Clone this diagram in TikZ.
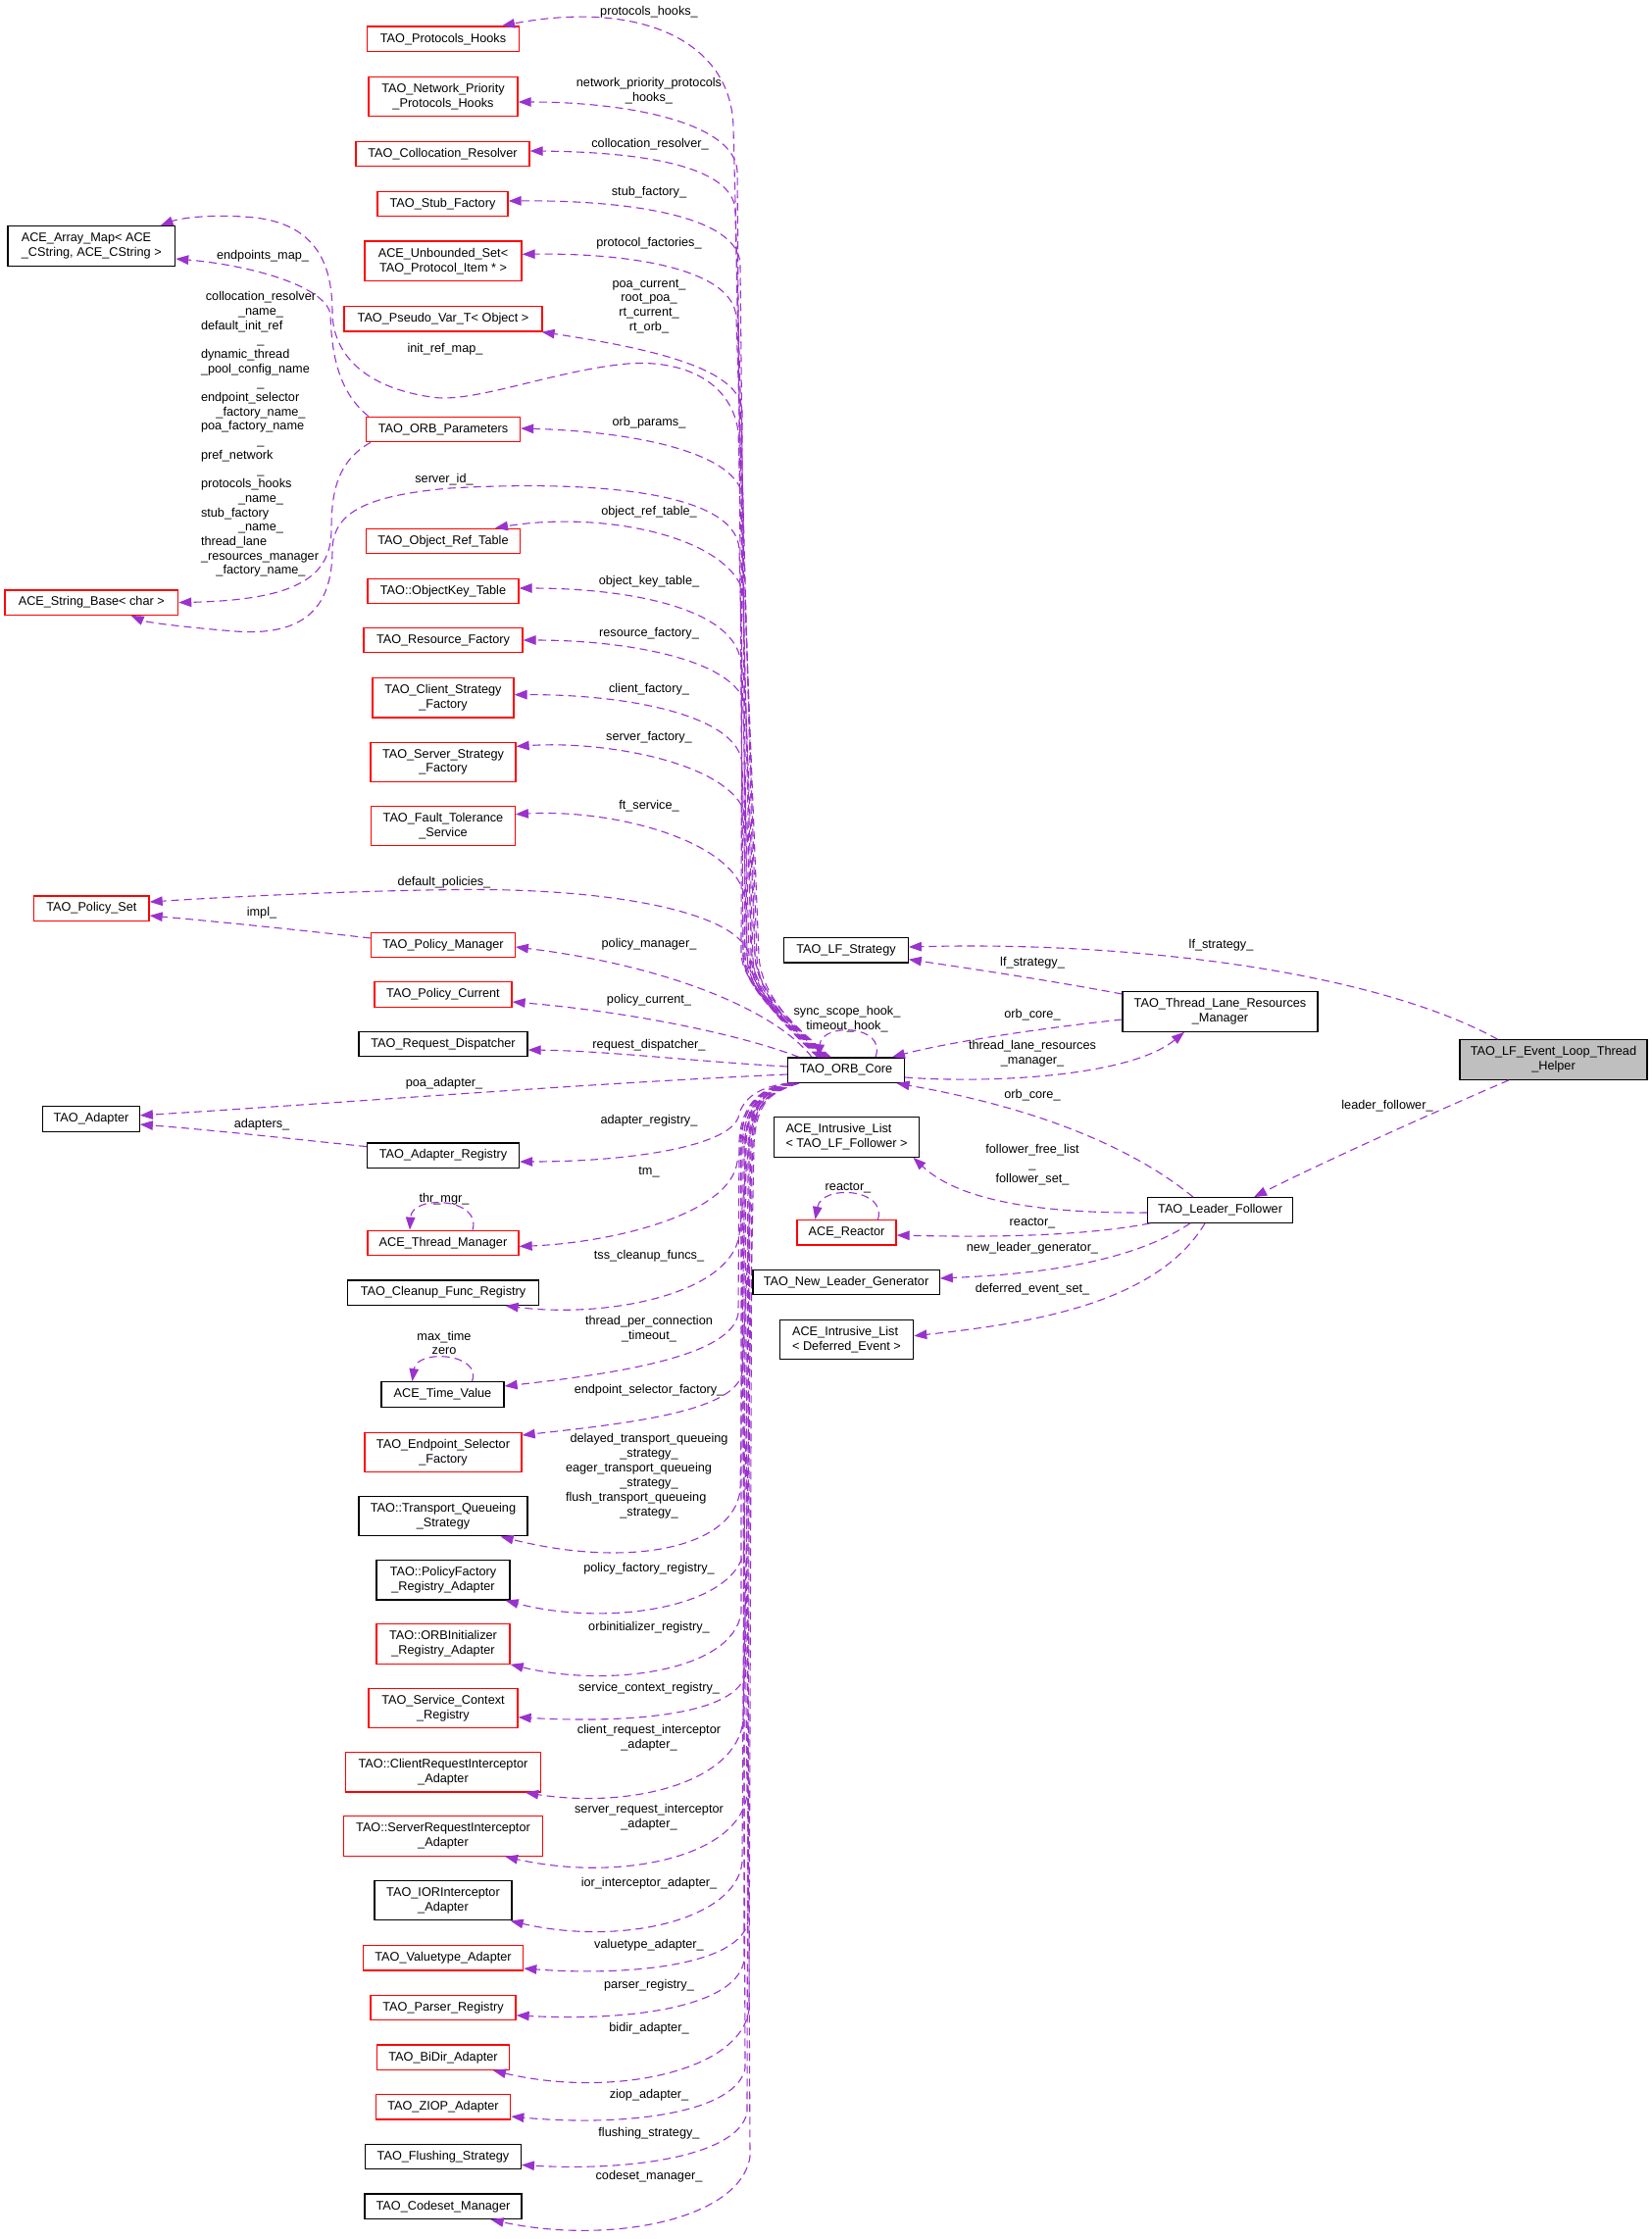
\documentclass[tikz,border=0pt]{standalone}
\usepackage{fontspec}
\setmainfont{Liberation Sans}
\usetikzlibrary{arrows.meta}
\definecolor{edgec}{HTML}{9A32CD}
\definecolor{hlgray}{HTML}{BFBFBF}
\tikzset{
  box/.style={draw=black, line width=1.3pt, inner sep=0pt, minimum height=25.5pt, align=center, font=\fontsize{12.7}{14.8}\selectfont, fill=white},
  rbox/.style={box, draw=red},
  two/.style={minimum height=40.4pt},
  edge/.style={draw=edgec, line width=1.1pt, dash pattern=on 8pt off 5pt, -{Triangle[length=13pt,width=9.5pt]}},
  lbl/.style={font=\fontsize{12.7}{14.8}\selectfont, inner sep=0pt, align=center},
}
\newcommand\mkc[1]{\makebox[\linewidth][c]{#1}}
\begin{document}
\begin{tikzpicture}[x=1pt,y=-1pt]
\fill[white] (0,0) rectangle (1685,2284);
\useasboundingbox (0,0) rectangle (1685,2284);
% ---- left column
\node[rbox, minimum width=155pt] (n1) at (452,39.7) {TAO\_Protocols\_Hooks};
\node[rbox, two, minimum width=152pt] (n2) at (452,98.5) {TAO\_Network\_Priority\\\_Protocols\_Hooks};
\node[rbox, minimum width=177pt] (n3) at (451.5,157) {TAO\_Collocation\_Resolver};
\node[rbox, minimum width=133pt] (n4) at (451.5,208) {TAO\_Stub\_Factory};
\node[rbox, two, minimum width=160pt] (n5) at (452,266.3) {ACE\_Unbounded\_Set<\\TAO\_Protocol\_Item * >};
\node[rbox, minimum width=202pt] (n6) at (452,325.2) {TAO\_Pseudo\_Var\_T< Object >};
\node[rbox, minimum width=157pt] (n7) at (452,438) {TAO\_ORB\_Parameters};
\node[rbox, minimum width=157pt] (n8) at (452,552) {TAO\_Object\_Ref\_Table};
\node[rbox, minimum width=154pt] (n9) at (452,603) {TAO::ObjectKey\_Table};
\node[rbox, minimum width=162pt] (n10) at (452,653) {TAO\_Resource\_Factory};
\node[rbox, two, minimum width=144pt] (n11) at (452,711.7) {TAO\_Client\_Strategy\\\_Factory};
\node[rbox, two, minimum width=148pt] (n12) at (452,777.4) {TAO\_Server\_Strategy\\\_Factory};
\node[rbox, two, minimum width=146.5pt] (n13) at (452,842.6) {TAO\_Fault\_Tolerance\\\_Service};
\node[rbox, minimum width=146.5pt] (n14) at (452,964) {TAO\_Policy\_Manager};
\node[rbox, minimum width=140pt] (n15) at (452,1014.4) {TAO\_Policy\_Current};
\node[box, minimum width=172pt] (n16) at (452,1065) {TAO\_Request\_Dispatcher};
\node[box, minimum width=155pt] (n17) at (452,1178.6) {TAO\_Adapter\_Registry};
\node[rbox, minimum width=154pt] (n18) at (452,1268) {ACE\_Thread\_Manager};
\node[box, minimum width=195pt] (n19) at (452,1318.6) {TAO\_Cleanup\_Func\_Registry};
\node[box, minimum width=125pt] (n20) at (451.5,1422.5) {ACE\_Time\_Value};
\node[rbox, two, minimum width=160pt] (n21) at (452,1481.4) {TAO\_Endpoint\_Selector\\\_Factory};
\node[box, two, minimum width=172pt] (n22) at (452,1546.6) {TAO::Transport\_Queueing\\\_Strategy};
\node[box, two, minimum width=136pt] (n23) at (452,1611.8) {TAO::PolicyFactory\\\_Registry\_Adapter};
\node[rbox, two, minimum width=136pt] (n24) at (452,1677) {TAO::ORBInitializer\\\_Registry\_Adapter};
\node[rbox, two, minimum width=152pt] (n25) at (452,1742.5) {TAO\_Service\_Context\\\_Registry};
\node[rbox, two, minimum width=199pt] (n26) at (452,1807.8) {TAO::ClientRequestInterceptor\\\_Adapter};
\node[rbox, two, minimum width=203pt] (n27) at (452,1873) {TAO::ServerRequestInterceptor\\\_Adapter};
\node[box, two, minimum width=140pt] (n28) at (452,1938.6) {TAO\_IORInterceptor\\\_Adapter};
\node[rbox, minimum width=163.3pt] (n29) at (452,1997.3) {TAO\_Valuetype\_Adapter};
\node[rbox, minimum width=148pt] (n30) at (452,2048) {TAO\_Parser\_Registry};
\node[rbox, minimum width=134.7pt] (n31) at (452,2098.7) {TAO\_BiDir\_Adapter};
\node[rbox, minimum width=137.4pt] (n32) at (452,2149.3) {TAO\_ZIOP\_Adapter};
\node[box, minimum width=158.6pt] (n33) at (452,2200) {TAO\_Flushing\_Strategy};
\node[box, minimum width=160pt] (n34) at (452,2250.8) {TAO\_Codeset\_Manager};
% ---- far left
\node[box, two, minimum width=170.6pt, align=left] (a1) at (93.3,251) {ACE\_Array\_Map< ACE\\\_CString, ACE\_CString >};
\node[rbox, minimum width=176.6pt] (a2) at (93.3,614.6) {ACE\_String\_Base< char >};
\node[rbox, minimum width=117.3pt] (a3) at (93.4,926.6) {TAO\_Policy\_Set};
\node[box, minimum width=98.5pt] (a4) at (93,1141.5) {TAO\_Adapter};
% ---- right part
\node[box, minimum width=119pt] (orb) at (863,1091.7) {TAO\_ORB\_Core};
\node[box, minimum width=126.4pt] (lfs) at (863,969.3) {TAO\_LF\_Strategy};
\node[box, two, minimum width=199pt] (tlr) at (1244.5,1032) {TAO\_Thread\_Lane\_Resources\\\_Manager};
\node[box, two, minimum width=191pt, fill=hlgray] (helper) at (1584.5,1081) {TAO\_LF\_Event\_Loop\_Thread\\\_Helper};
\node[box, two, minimum width=148pt, align=left] (il1) at (863.5,1160) {ACE\_Intrusive\_List\\< TAO\_LF\_Follower >};
\node[box, minimum width=148pt] (lf) at (1244.6,1234.5) {TAO\_Leader\_Follower};
\node[rbox, minimum width=101pt] (reactor) at (863.5,1257.3) {ACE\_Reactor};
\node[box, minimum width=190.3pt] (nlg) at (863,1308) {TAO\_New\_Leader\_Generator};
\node[box, two, minimum width=136.3pt, align=left] (il2) at (863.5,1366.5) {ACE\_Intrusive\_List\\< Deferred\_Event >};

% ---- upper bundle edges
\draw[edge] ([xshift=-22pt]orb.north) .. controls (800,1040) and (772,1010) .. (770,975) -- (748,130) .. controls (746,40) and (650,0) .. ([xshift=60pt]n1.north);
\draw[edge] ([xshift=-20pt]orb.north) .. controls (798,1040) and (760,1010) .. (758,975) -- (752,175) .. controls (750,125) and (640,104) .. ([yshift=-5.5pt]n2.east);
\draw[edge] ([xshift=-24pt]orb.north) .. controls (799,1041) and (768,1011) .. (766,976) -- (750,215) .. controls (748,168) and (650,155) .. ([yshift=3pt]n3.east);
\draw[edge] ([xshift=-18pt]orb.north) .. controls (802,1039) and (764,1009) .. (762,974) -- (755,270) .. controls (754,220) and (640,204) .. ([yshift=3pt]n4.east);
\draw[edge] ([xshift=-26pt]orb.north) .. controls (798,1042) and (774,1012) .. (772,977) -- (751,325) .. controls (750,275) and (645,258) .. ([yshift=7pt]n5.east);
\draw[edge] ([xshift=-16pt]orb.north) .. controls (803,1038) and (758,1008) .. (756,973) -- (757,420) .. controls (757,375) and (660,355) .. ([xshift=-1pt]n6.south east);
\draw[edge] ([xshift=-28pt]orb.north) .. controls (797,1043) and (770,1013) .. (768,978) -- (753,440) .. controls (745,385) and (690,365) .. (633,371.7) .. controls (560,380) and (480,412) .. (440,405) .. controls (370,395) and (340,360) .. (339,320) .. controls (339,280) and (330,230) .. (260,222) .. controls (220,218) and (185,222) .. ([xshift=-15.6pt]a1.north east);
\draw[edge] ([xshift=-21pt]orb.north) .. controls (800,1040) and (762,1010) .. (760,975) -- (758,510) .. controls (756,460) and (640,440) .. ([yshift=1pt]n7.east);
\draw[edge] ([xshift=-25pt]orb.north) .. controls (799,1041) and (766,1011) .. (764,976) -- (754,560) .. controls (750,500) and (600,490) .. (459,498) .. controls (380,505) and (340,520) .. (339,560) .. controls (339,610) and (320,650) .. (240,644) .. controls (190,640) and (150,635) .. ([xshift=40.4pt]a2.south);
\draw[edge] ([xshift=-19pt]orb.north) .. controls (801,1040) and (776,1010) .. (774,975) -- (760,615) .. controls (757,550) and (620,520) .. ([xshift=53pt]n8.north);
\draw[edge] ([xshift=-23pt]orb.north) .. controls (800,1041) and (760,1011) .. (758,975) -- (756,680) .. controls (755,620) and (640,600) .. ([yshift=3pt]n9.east);
\draw[edge] ([xshift=-17pt]orb.north) .. controls (802,1039) and (772,1009) .. (770,974) -- (761,725) .. controls (759,675) and (645,653) .. (n10.east);
\draw[edge] ([xshift=-27pt]orb.north) .. controls (798,1042) and (764,1012) .. (762,977) -- (757,780) .. controls (755,730) and (640,708) .. ([yshift=3pt]n11.east);
\draw[edge] ([xshift=-20pt]orb.north) .. controls (801,1040) and (769,1010) .. (767,975) -- (762,840) .. controls (759,780) and (620,755) .. ([yshift=16pt]n12.east);
\draw[edge] ([xshift=-24pt]orb.north) .. controls (799,1041) and (761,1011) .. (759,976) -- (760,920) .. controls (757,860) and (630,825) .. ([yshift=12pt]n13.east);
\draw[edge] ([xshift=-29pt]orb.north) .. controls (797,1043) and (767,1012) .. (765,977) .. controls (758,930) and (620,905) .. (459,907.6) .. controls (350,909) and (230,915) .. ([yshift=6.6pt]a3.east);
% ---- direct left edges of ORB core
\draw[edge] ([xshift=-35pt]orb.north) .. controls (790,1030) and (680,985) .. ([yshift=-2pt]n14.east);
\draw[edge] ([xshift=-48pt]orb.north) .. controls (740,1050) and (620,1030) .. ([yshift=-7.6pt]n15.east);
\draw[edge] ([yshift=3.7pt]orb.west) .. controls (700,1082) and (620,1072) .. ([yshift=-6pt]n16.east);
\draw[edge] ([yshift=-4.3pt]orb.west) .. controls (600,1105) and (350,1125) .. ([yshift=3.7pt]a4.east);
% ---- edges between left nodes
\draw[edge] ([yshift=7pt]n14.west) .. controls (300,948) and (220,940) .. ([yshift=-7.4pt]a3.east);
\draw[edge] ([yshift=9pt]n17.west) .. controls (300,1162) and (220,1153) .. ([yshift=-5.5pt]a4.east);
\draw[edge] ([xshift=3pt]n7.north west) .. controls (345,400) and (338,360) .. (337,320) .. controls (330,290) and (250,270) .. ([yshift=-13pt]a1.east);
\draw[edge] ([xshift=5pt]n7.south west) .. controls (345,470) and (338,500) .. (338,540) .. controls (338,590) and (300,612) .. (a2.east);
% ---- lower bundle edges
\draw[edge] ([xshift=2pt]orb.south west) .. controls (775,1108) and (757,1120) .. (753,1140) .. controls (742,1170) and (640,1185) .. ([yshift=-6.4pt]n17.east);
\draw[edge] ([xshift=3pt]orb.south west) .. controls (780,1110) and (760,1125) .. (758,1165) -- (752,1185) .. controls (745,1240) and (620,1268) .. ([yshift=-3.4pt]n18.east);
\draw[edge] ([xshift=5pt]orb.south west) .. controls (781,1111) and (766,1126) .. (764,1166) -- (754,1260) .. controls (745,1320) and (620,1345) .. ([xshift=-34.5pt]n19.south east);
\draw[edge] ([xshift=1pt]orb.south west) .. controls (779,1109) and (756,1124) .. (754,1164) -- (753,1340) .. controls (746,1385) and (620,1402) .. ([yshift=8.5pt]n20.east);
\draw[edge] ([xshift=7pt]orb.south west) .. controls (782,1112) and (770,1127) .. (768,1167) -- (757,1400) .. controls (751,1440) and (640,1452) .. ([yshift=17.4pt]n21.east);
\draw[edge] ([xshift=4pt]orb.south west) .. controls (780,1110) and (762,1125) .. (760,1165) -- (755,1520) .. controls (748,1580) and (640,1600) .. ([xshift=-28pt]n22.south east);
\draw[edge] ([xshift=9pt]orb.south west) .. controls (783,1113) and (768,1128) .. (766,1168) -- (759,1580) .. controls (752,1640) and (620,1660) .. ([xshift=-5pt]n23.south east);
\draw[edge] ([xshift=2pt]orb.south west) .. controls (779,1109) and (758,1124) .. (756,1164) -- (756,1645) .. controls (748,1705) and (620,1722) .. (n24.south east);
\draw[edge] ([xshift=6pt]orb.south west) .. controls (781,1111) and (765,1126) .. (763,1166) -- (761,1705) .. controls (755,1750) and (640,1758) .. ([yshift=-9.3pt]n25.east);
\draw[edge] ([xshift=10pt]orb.south west) .. controls (784,1113) and (771,1128) .. (769,1168) -- (758,1755) .. controls (751,1820) and (640,1845) .. ([xshift=-16pt]n26.south east);
\draw[edge] ([xshift=3pt]orb.south west) .. controls (780,1110) and (757,1125) .. (755,1165) -- (762,1830) .. controls (755,1895) and (630,1920) .. ([xshift=-39pt]n27.south east);
\draw[edge] ([xshift=8pt]orb.south west) .. controls (782,1112) and (763,1127) .. (761,1167) -- (757,1900) .. controls (750,1960) and (630,1985) .. ([xshift=-2pt]n28.south east);
\draw[edge] ([xshift=5pt]orb.south west) .. controls (781,1111) and (767,1126) .. (765,1166) -- (763,1960) .. controls (755,2005) and (640,2016) .. ([yshift=-10.7pt]n29.east);
\draw[edge] ([xshift=11pt]orb.south west) .. controls (784,1114) and (761,1129) .. (759,1169) -- (759,2000) .. controls (751,2048) and (640,2062) .. ([yshift=-7.8pt]n30.east);
\draw[edge] ([xshift=4pt]orb.south west) .. controls (780,1110) and (769,1125) .. (767,1165) -- (764,2050) .. controls (755,2115) and (620,2140) .. ([xshift=-17pt]n31.south east);
\draw[edge] ([xshift=7pt]orb.south west) .. controls (782,1112) and (759,1127) .. (757,1167) -- (760,2110) .. controls (751,2155) and (640,2170) .. ([yshift=-9.7pt]n32.east);
\draw[edge] ([xshift=12pt]orb.south west) .. controls (785,1114) and (766,1129) .. (764,1169) -- (762,2155) .. controls (753,2200) and (640,2215) .. ([yshift=-8.4pt]n33.east);
\draw[edge] ([xshift=6pt]orb.south west) .. controls (781,1111) and (762,1126) .. (760,1166) -- (765,2200) .. controls (755,2265) and (620,2290) .. ([xshift=-32pt]n34.south east);
% ---- self loops
\draw[edge] ([xshift=30pt]n18.north) .. controls (492,1222) and (420,1218) .. ([xshift=-34pt]n18.north);
\draw[edge] ([xshift=30pt]n20.north) .. controls (492,1380) and (425,1376) .. ([xshift=-31pt]n20.north);
\draw[edge] ([xshift=30pt]orb.north) .. controls (905,1045) and (838,1043) .. ([xshift=-28pt]orb.north);
\draw[edge] ([xshift=32pt]reactor.north) .. controls (905,1212) and (838,1208) .. ([xshift=-32pt]reactor.north);
% ---- right part edges
\draw[edge] ([xshift=-57pt]helper.north) .. controls (1400,990) and (1150,960) .. ([yshift=3.3pt]lfs.east);
\draw[edge] ([yshift=18pt]tlr.west) .. controls (1070,1000) and (990,988) .. ([yshift=-9.4pt]lfs.east);
\draw[edge] ([yshift=-8pt]tlr.west) .. controls (1050,1050) and (960,1065) .. ([xshift=47pt]orb.north);
\draw[edge] ([yshift=-7.3pt]orb.east) .. controls (1000,1105) and (1150,1100) .. ([xshift=-36.5pt]tlr.south);
\draw[edge] ([xshift=-27.6pt]lf.north) .. controls (1130,1150) and (1000,1120) .. ([xshift=51.6pt]orb.south);
\draw[edge] ([xshift=-45.5pt]helper.south) .. controls (1450,1140) and (1340,1190) .. ([xshift=34.4pt]lf.north);
\draw[edge] ([yshift=-2.5pt]lf.west) .. controls (1050,1238) and (975,1222) .. ([xshift=-6.6pt]il1.south east);
\draw[edge] ([xshift=3pt]lf.south west) .. controls (1100,1262) and (1000,1262) .. ([yshift=-2.7pt]reactor.east);
\draw[edge] ([xshift=-30.6pt]lf.south) .. controls (1150,1290) and (1050,1300) .. ([yshift=4pt]nlg.east);
\draw[edge] ([xshift=-15.6pt]lf.south) .. controls (1180,1330) and (1050,1350) .. ([yshift=3.8pt]il2.east);

% ---- labels
\node[lbl] (l1) at (662,11.9) {protocols\_hooks\_};
\node[lbl] (l2) at (662,92.3) {network\_priority\_protocols\\\_hooks\_};
\node[lbl] (l3) at (663,147) {collocation\_resolver\_};
\node[lbl] (l4) at (662,196.5) {stub\_factory\_};
\node[lbl] (l5) at (662,248.7) {protocol\_factories\_};
\node[lbl] (l6) at (662,312.5) {poa\_current\_\\root\_poa\_\\rt\_current\_\\rt\_orb\_};
\node[lbl] (l7) at (454,356.7) {init\_ref\_map\_};
\node[lbl] (l8) at (268,261) {endpoints\_map\_};
\node[lbl, text width=122pt, align=left, font=\fontsize{12.7}{14.7}\selectfont] (l9) at (266,443) {\mkc{collocation\_resolver}\\ \mkc{\_name\_}\\ default\_init\_ref\\ \mkc{\_}\\ dynamic\_thread\\ \_pool\_config\_name\\ \mkc{\_}\\ endpoint\_selector\\ \mkc{\_factory\_name\_}\\ poa\_factory\_name\\ \mkc{\_}\\ pref\_network\\ \mkc{\_}\\ protocols\_hooks\\ \mkc{\_name\_}\\ stub\_factory\\ \mkc{\_name\_}\\ thread\_lane\\ \_resources\_manager\\ \mkc{\_factory\_name\_}};
\node[lbl] (l10) at (662,431) {orb\_params\_};
\node[lbl] (l11) at (453,489) {server\_id\_};
\node[lbl] (l12) at (662,522.7) {object\_ref\_table\_};
\node[lbl] (l13) at (662,593) {object\_key\_table\_};
\node[lbl] (l14) at (662,646.7) {resource\_factory\_};
\node[lbl] (l15) at (662,702.8) {client\_factory\_};
\node[lbl] (l16) at (662,751.8) {server\_factory\_};
\node[lbl] (l17) at (662,822.6) {ft\_service\_};
\node[lbl] (l18) at (453,900.5) {default\_policies\_};
\node[lbl] (l19) at (267,931) {impl\_};
\node[lbl] (l20) at (662,963) {policy\_manager\_};
\node[lbl] (l21) at (662,1020) {policy\_current\_};
\node[lbl] (l22) at (662,1066.6) {request\_dispatcher\_};
\node[lbl] (l23) at (453,1105) {poa\_adapter\_};
\node[lbl] (l24) at (267,1147) {adapters\_};
\node[lbl] (l25) at (662,1143) {adapter\_registry\_};
\node[lbl] (l26) at (662,1196) {tm\_};
\node[lbl] (l27) at (453,1223) {thr\_mgr\_};
\node[lbl] (l28) at (662,1280.7) {tss\_cleanup\_funcs\_};
\node[lbl] (l29) at (662,1356) {thread\_per\_connection\\\_timeout\_};
\node[lbl] (l30) at (453,1370) {max\_time\\zero};
\node[lbl] (l31) at (662,1418.6) {endpoint\_selector\_factory\_};
\node[lbl, text width=170pt, align=left, font=\fontsize{12.7}{15}\selectfont] (l32) at (662,1505.7) {\mkc{delayed\_transport\_queueing}\\ \mkc{\_strategy\_}\\ eager\_transport\_queueing\\ \mkc{\_strategy\_}\\ flush\_transport\_queueing\\ \mkc{\_strategy\_}};
\node[lbl] (l33) at (662,1600) {policy\_factory\_registry\_};
\node[lbl] (l34) at (662,1660) {orbinitializer\_registry\_};
\node[lbl] (l35) at (662,1722.5) {service\_context\_registry\_};
\node[lbl] (l36) at (662,1772.5) {client\_request\_interceptor\\\_adapter\_};
\node[lbl] (l37) at (662,1854) {server\_request\_interceptor\\\_adapter\_};
\node[lbl] (l38) at (662,1920.8) {ior\_interceptor\_adapter\_};
\node[lbl] (l39) at (662,1984) {valuetype\_adapter\_};
\node[lbl] (l40) at (662,2025) {parser\_registry\_};
\node[lbl] (l41) at (662,2069) {bidir\_adapter\_};
\node[lbl] (l42) at (662,2137) {ziop\_adapter\_};
\node[lbl] (l43) at (662,2176.5) {flushing\_strategy\_};
\node[lbl] (l44) at (662,2220.6) {codeset\_manager\_};
\node[lbl] (l45) at (864,1039.5) {sync\_scope\_hook\_\\timeout\_hook\_};
\node[lbl] (l46) at (865,1211.7) {reactor\_};
\node[lbl] (l47) at (1245.5,964) {lf\_strategy\_};
\node[lbl] (l48) at (1053,982.7) {lf\_strategy\_};
\node[lbl] (l49) at (1053,1035) {orb\_core\_};
\node[lbl] (l50) at (1053,1075) {thread\_lane\_resources\\\_manager\_};
\node[lbl] (l51) at (1053,1117) {orb\_core\_};
\node[lbl] (l52) at (1415,1127.7) {leader\_follower\_};
\node[lbl] (l53) at (1053,1188) {follower\_free\_list\\\_\\follower\_set\_};
\node[lbl] (l54) at (1053,1247.7) {reactor\_};
\node[lbl] (l55) at (1053,1272.7) {new\_leader\_generator\_};
\node[lbl] (l56) at (1053,1315) {deferred\_event\_set\_};
\end{tikzpicture}
\end{document}
